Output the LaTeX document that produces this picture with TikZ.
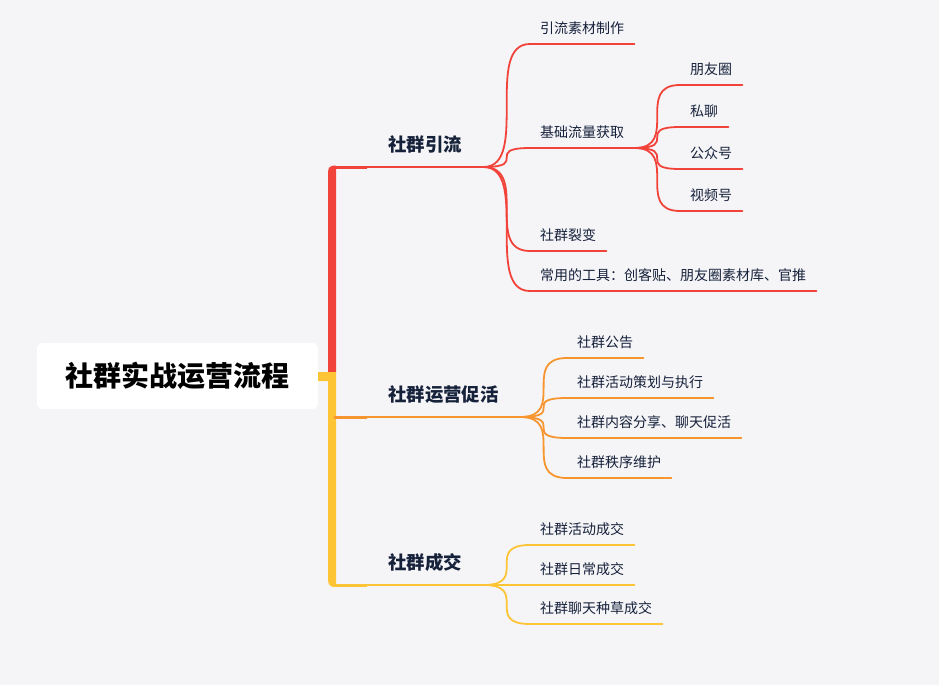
\documentclass[tikz,border=0pt]{standalone}
\usepackage{fontspec}
\setmainfont{Noto Sans CJK SC}
\usetikzlibrary{positioning,calc}
\definecolor{mBg}{HTML}{F5F5F8}
\definecolor{mRed}{HTML}{F2433A}
\definecolor{mOrange}{HTML}{F7952E}
\definecolor{mYellow}{HTML}{FDC436}
\definecolor{mInk}{HTML}{16213A}
\tikzset{
  root/.style={fill=white, rounded corners=6pt, text=black, inner sep=0pt,
               font=\bfseries\fontsize{28}{30}\selectfont,
               minimum width=281pt, minimum height=66pt},
  topic/.style={anchor=south west, text=mInk, text depth=0pt,
                font=\bfseries\fontsize{18.4}{20}\selectfont,
                inner xsep=21.4pt, inner ysep=15pt},
  leaf/.style={anchor=south west, text=mInk, text depth=0pt,
               font=\fontsize{14}{16}\selectfont,
               inner xsep=10pt, inner ysep=10pt},
  % smooth S-bend, level at both ends
  fan/.style={to path={.. controls (\tikztotarget |- \tikztostart)
                       and (\tikztostart |- \tikztotarget) .. (\tikztotarget)}},
  stem/.style={line width=3pt},
  twig/.style={line width=1.8pt, line cap=round},
}

\begin{document}
\begin{tikzpicture}[x=1pt, y=-1pt]
\fill[mBg] (0,0) rectangle (939,685);
\useasboundingbox (0,0) rectangle (939,685);

%% -- root and trunk --------------------------------------------------------
\node[root] (root) at (177.5,376) {社群实战运营流程};

\fill[mRed] (328,372) -- (328,173) .. controls (328,167) and (330,165.5)
  .. (336,165.5) -- (336,372) -- cycle;
\fill[mYellow] (318,372) -- (336,372) -- (336,587) .. controls (330,587)
  and (328,585) .. (328,579) -- (328,381) -- (318,381) -- cycle;

\coordinate (j1) at (332,167);
\coordinate (j2) at (334,417);
\coordinate (j3) at (332,585);

%% -- topics ----------------------------------------------------------------
\node[topic] (t1) at (366.6,167) {社群引流};
\node[topic] (t2) at (366.6,417) {社群运营促活};
\node[topic] (t3) at (366.6,585) {社群成交};

\draw[mRed, stem] (j1) -- (t1.south west);
\draw[mRed, twig] (t1.south west) -- (t1.south east);
\draw[mOrange, stem] (j2) -- (t2.south west);
\draw[mOrange, twig] (t2.south west) -- (t2.south east);
\draw[mYellow, stem] (j3) -- (t3.south west);
\draw[mYellow, twig] (t3.south west) -- (t3.south east);

%% -- 社群引流 --------------------------------------------------------------
\node[leaf] (r1) at (530,44)  {引流素材制作};
\node[leaf] (r2) at (530,148) {基础流量获取};
\node[leaf] (r3) at (530,251) {社群裂变};
\node[leaf] (r4) at (530,291) {常用的工具：创客贴、朋友圈素材库、官推};
\foreach \n in {r1,r2,r3,r4}
  \draw[mRed, twig, fan] (t1.south east) to (\n.south west) -- (\n.south east);

\node[leaf] (s1) at (680,85)  {朋友圈};
\node[leaf] (s2) at (680,127) {私聊};
\node[leaf] (s3) at (680,169) {公众号};
\node[leaf] (s4) at (680,211) {视频号};
\foreach \n in {s1,s2,s3,s4}
  \draw[mRed, twig, fan] (r2.south east) to (\n.south west) -- (\n.south east);

%% -- 社群运营促活 ----------------------------------------------------------
\node[leaf] (o1) at (567,358) {社群公告};
\node[leaf] (o2) at (567,398) {社群活动策划与执行};
\node[leaf] (o3) at (567,438) {社群内容分享、聊天促活};
\node[leaf] (o4) at (567,478) {社群秩序维护};
\foreach \n in {o1,o2,o3,o4}
  \draw[mOrange, twig, fan] (t2.south east) to (\n.south west) -- (\n.south east);

%% -- 社群成交 --------------------------------------------------------------
\node[leaf] (y1) at (530,545) {社群活动成交};
\node[leaf] (y2) at (530,585) {社群日常成交};
\node[leaf] (y3) at (530,624) {社群聊天种草成交};
\foreach \n in {y1,y2,y3}
  \draw[mYellow, twig, fan] (t3.south east) to (\n.south west) -- (\n.south east);

\end{tikzpicture}
\end{document}
